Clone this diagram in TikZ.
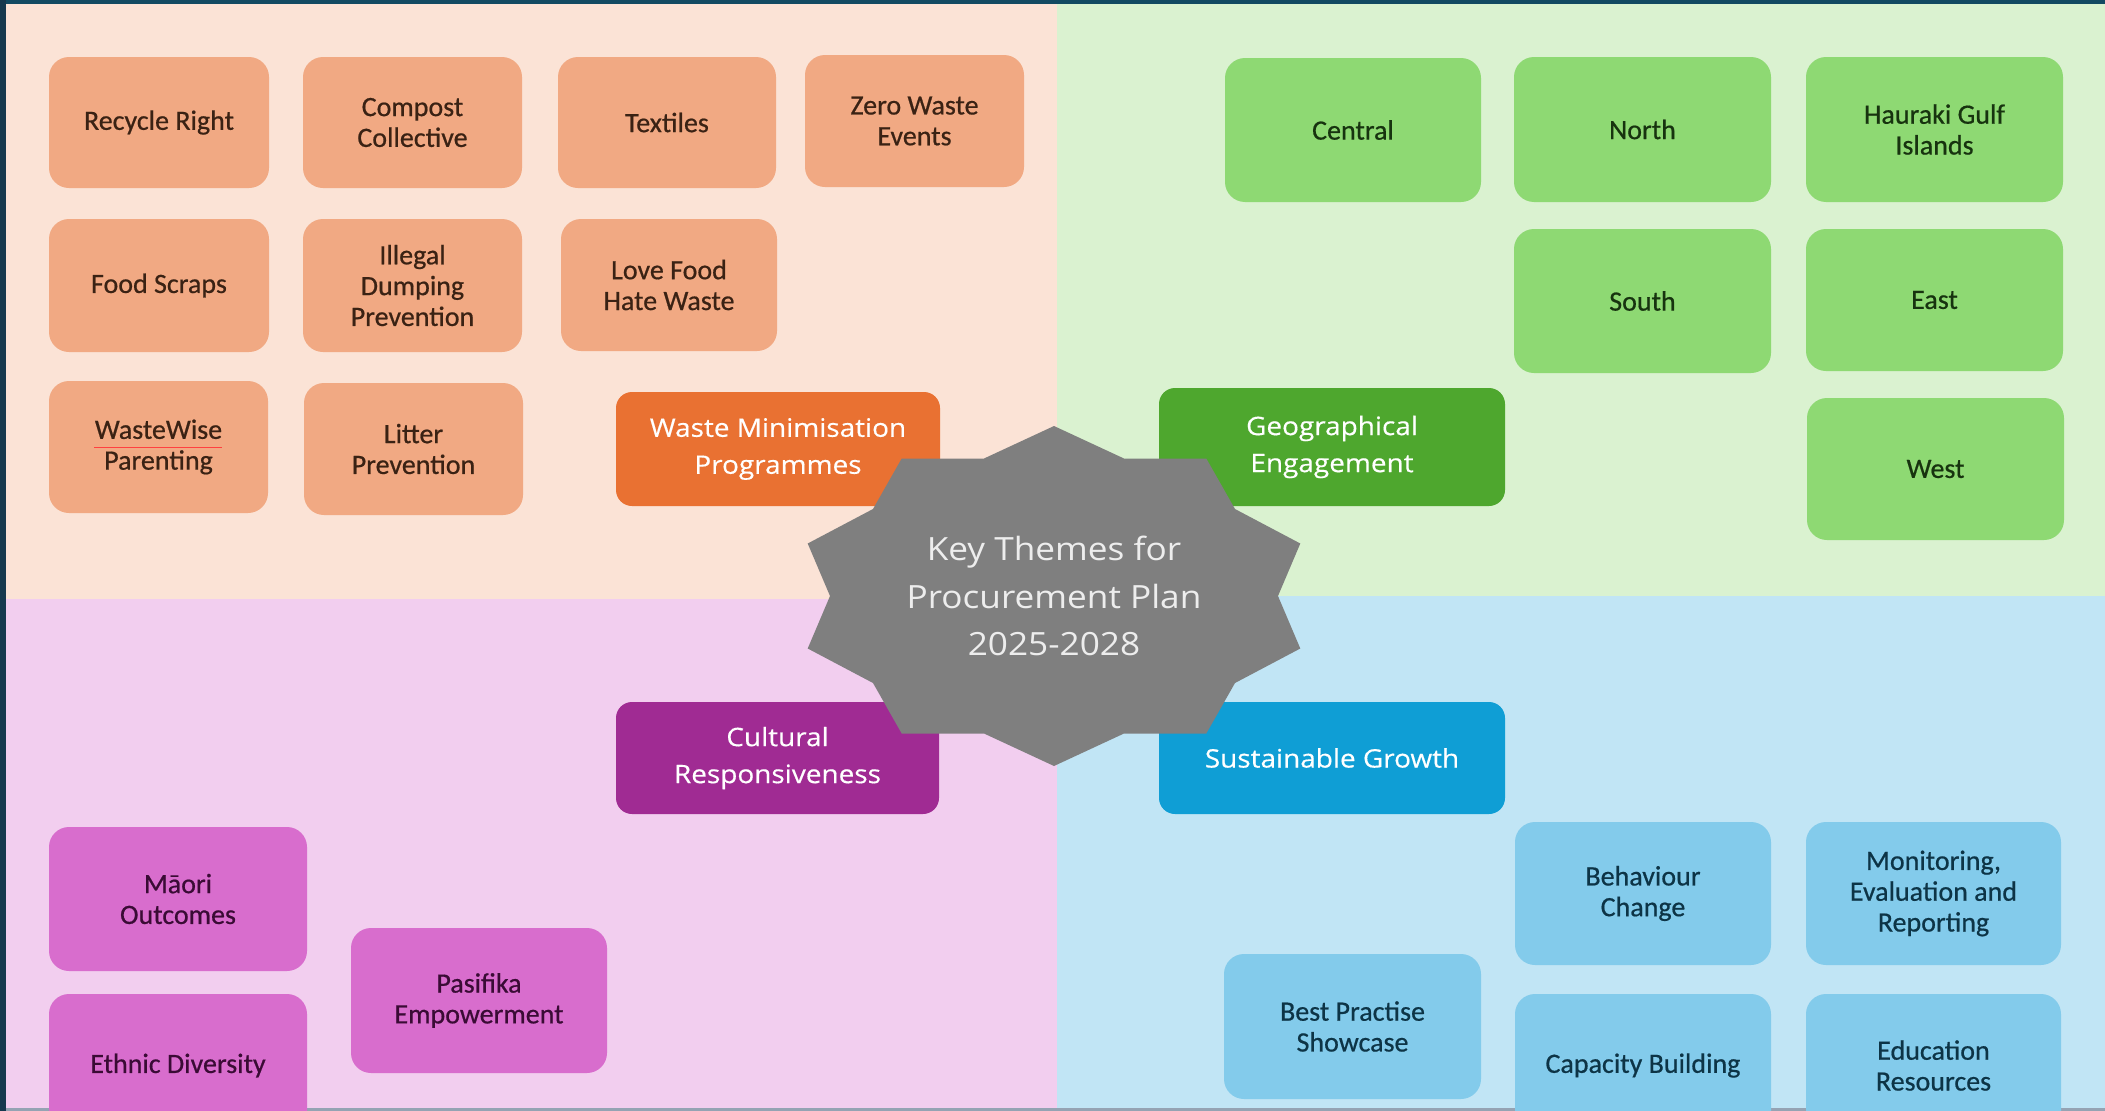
\documentclass[tikz,border=0pt]{standalone}
\usepackage{fontspec}
\setmainfont{Carlito}
\newfontfamily\boxfont[FakeBold=0.6]{Carlito}
\newfontfamily\hdfont[FakeStretch=1.1,FakeBold=0.4]{Open Sans}
\newfontfamily\ctrfont[FakeStretch=1.1]{Open Sans}
\definecolor{peachbg}{HTML}{FBE3D6}
\definecolor{peachbox}{HTML}{F1A983}
\definecolor{peachtxt}{HTML}{3A2214}
\definecolor{orangehd}{HTML}{E97132}
\definecolor{greenbg}{HTML}{DAF2D0}
\definecolor{greenbox}{HTML}{8ED973}
\definecolor{greentxt}{HTML}{17330F}
\definecolor{greenhd}{HTML}{4EA72E}
\definecolor{pinkbg}{HTML}{F2CEEF}
\definecolor{pinkbox}{HTML}{D86DCD}
\definecolor{pinktxt}{HTML}{3A0B35}
\definecolor{purplehd}{HTML}{A02B93}
\definecolor{bluebg}{HTML}{C1E5F5}
\definecolor{bluebox}{HTML}{83CBEB}
\definecolor{bluetxt}{HTML}{0D3446}
\definecolor{bluehd}{HTML}{0F9ED5}
\definecolor{stargray}{HTML}{7F7F7F}
\definecolor{frameleft}{HTML}{16394E}
\definecolor{frametop}{HTML}{124A62}
\definecolor{framebot}{HTML}{95A3B3}
\tikzset{
  sz/.style 2 args={minimum width=#1pt, minimum height=#2pt},
  bx/.style={rounded corners=20pt, align=center, inner sep=0pt,
    font=\boxfont\fontsize{28}{30.8}\selectfont},
  pch/.style={bx, fill=peachbox, text=peachtxt},
  grn/.style={bx, fill=greenbox, text=greentxt},
  pnk/.style={bx, fill=pinkbox, text=pinktxt},
  blu/.style={bx, fill=bluebox, text=bluetxt},
  hd/.style={rounded corners=16pt, align=center, inner sep=0pt,
    text=white, font=\hdfont\fontsize{25.4}{37}\selectfont},
}
\begin{document}
\begin{tikzpicture}[x=1pt, y=-1pt]
\useasboundingbox (0,0) rectangle (2105,1111);
\clip (0,0) rectangle (2105,1111);
% quadrants
\fill[peachbg] (0,0) rectangle (1057,599);
\fill[greenbg] (1057,0) rectangle (2105,596);
\fill[pinkbg] (0,599) rectangle (1057,1111);
\fill[bluebg] (1057,596) rectangle (2105,1111);
% frame
\fill[frametop] (0,0) rectangle (2105,4);
\fill[frameleft] (0,0) rectangle (6,1111);
\fill[framebot] (6,1108) rectangle (2105,1111);

% peach quadrant
\node[pch, sz={220}{131}] (rr) at (159,122.5) {Recycle Right};
\node[pch, sz={219}{131}] (cc) at (412.5,122.5) {Compost\\Collective};
\node[pch, sz={218}{131}] (tx) at (667,122.5) {Textiles};
\node[pch, sz={219}{132}] (zw) at (914.5,121) {Zero Waste\\Events};
\node[pch, sz={220}{133}] (fs) at (159,285.5) {Food Scraps};
\node[pch, sz={219}{133}] (id) at (412.5,285.5) {Illegal\\Dumping\\Prevention};
\node[pch, sz={216}{132}] (lf) at (669,285) {Love Food\\Hate Waste};
\node[pch, sz={219}{132}] (ww) at (158.5,447) {WasteWise\\Parenting};
\node[pch, sz={219}{132}] (lp) at (413.5,449) {Litter\\Prevention};
\draw[red!75!white, line width=1pt] (94,447) -- (222,447);
\node[hd, fill=orangehd, sz={324}{114}] (wm) at (778,449) {Waste Minimisation\\Programmes};

% green quadrant
\node[grn, sz={256}{144}] (ce) at (1353,130) {Central};
\node[grn, sz={257}{145}] (no) at (1642.5,129.5) {North};
\node[grn, sz={257}{145}] (hg) at (1934.5,129.5) {Hauraki Gulf\\Islands};
\node[grn, sz={257}{144}] (so) at (1642.5,301) {South};
\node[grn, sz={257}{142}] (ea) at (1934.5,300) {East};
\node[grn, sz={257}{142}] (we) at (1935.5,469) {West};
\node[hd, fill=greenhd, sz={346}{118}] (ge) at (1332,447) {Geographical\\Engagement};

% pink quadrant
\node[hd, fill=purplehd, sz={323}{112}] (cr) at (777.5,758) {Cultural\\Responsiveness};
\node[pnk, sz={258}{144}] (mo) at (178,899) {Māori\\Outcomes};
\node[pnk, sz={256}{145}] (pe) at (479,1000.5) {Pasifika\\Empowerment};
\node[pnk, sz={258}{143}] (ed) at (178,1065.5) {Ethnic Diversity};

% blue quadrant
\node[hd, fill=bluehd, sz={346}{112}] (sg) at (1332,758) {Sustainable Growth};
\node[blu, sz={256}{143}] (bc) at (1643,893.5) {Behaviour\\Change};
\node[blu, sz={255}{143}] (me) at (1933.5,893.5) {Monitoring,\\Evaluation and\\Reporting};
\node[blu, sz={257}{145}] (bp) at (1352.5,1026.5) {Best Practise\\Showcase};
\node[blu, sz={256}{143}] (cb) at (1643,1065.5) {Capacity Building};
\node[blu, sz={255}{143}] (er) at (1933.5,1065.5) {Education\\Resources};

% central star
\fill[stargray]
  (1054,426) -- (1124,458.5) -- (1206.3,458.5) -- (1235,509) -- (1300.3,543.5) -- (1278,596)
  -- (1300.3,648.5) -- (1235,683) -- (1206.3,733.5) -- (1124,733.5) -- (1054,766)
  -- (984,733.5) -- (901.7,733.5) -- (873,683) -- (807.7,648.5) -- (830,596)
  -- (807.7,543.5) -- (873,509) -- (901.7,458.5) -- (984,458.5) -- cycle;
\node[align=center, text=white!93!black, inner sep=0pt,
  font=\ctrfont\fontsize{32}{47.5}\selectfont] (ctr) at (1054,596)
  {Key Themes for\\Procurement Plan\\2025-2028};
\end{tikzpicture}
\end{document}
